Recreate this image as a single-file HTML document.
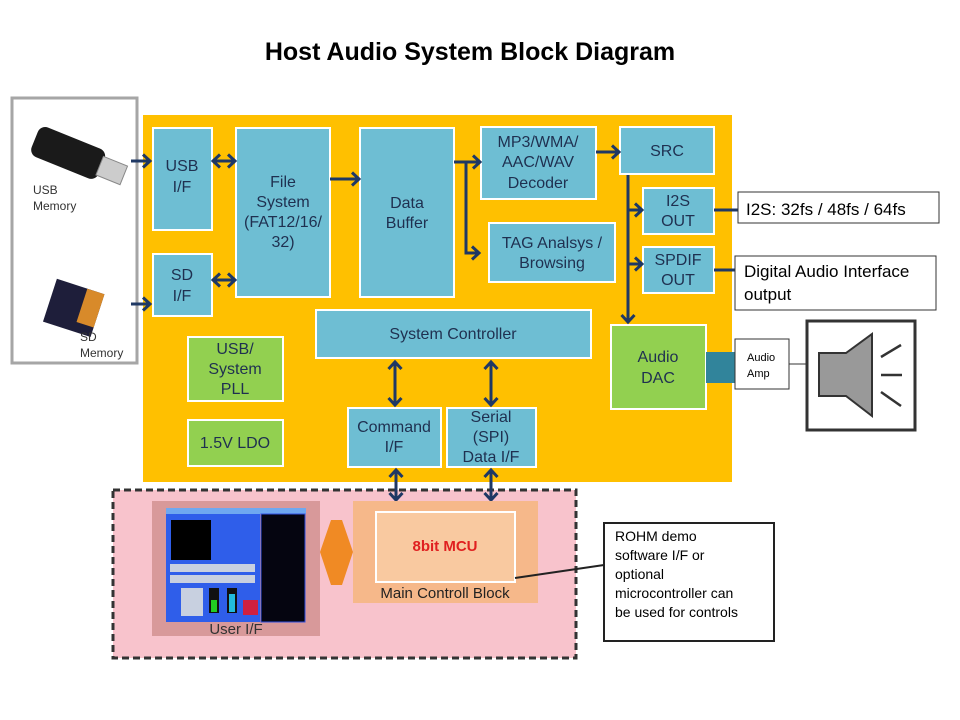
<!DOCTYPE html>
<html><head><meta charset="utf-8"><style>
html,body{margin:0;padding:0;background:#fff;}
svg{display:block;font-family:"Liberation Sans",Arial,sans-serif;}
</style></head><body>
<svg width="960" height="720" viewBox="0 0 960 720" xmlns="http://www.w3.org/2000/svg">
<defs>
<marker id="a" markerWidth="14" markerHeight="16" refX="9" refY="8" orient="auto" markerUnits="userSpaceOnUse"><path d="M2,1.5 L9,8 L2,14.5" fill="none" stroke="#1F3864" stroke-width="3"/></marker>
<marker id="s" markerWidth="14" markerHeight="16" refX="9" refY="8" orient="auto-start-reverse" markerUnits="userSpaceOnUse"><path d="M2,1.5 L9,8 L2,14.5" fill="none" stroke="#1F3864" stroke-width="3"/></marker>
</defs>
<text x="470" y="60" text-anchor="middle" font-size="25" font-weight="bold" fill="#000">Host Audio System Block Diagram</text>

<rect x="12" y="98" width="125" height="265" fill="#fff" stroke="#A6A6A6" stroke-width="3"/>
<g transform="rotate(22 75 160)">
<rect x="30" y="140" width="72" height="32" rx="8" fill="#1a1a1a"/>
<rect x="100" y="146" width="26" height="20" fill="#ccc" stroke="#888"/>
</g>
<text x="33" y="194" font-size="12" fill="#333">USB</text>
<text x="33" y="210" font-size="12" fill="#333">Memory</text>
<g transform="rotate(18 72 310)">
<rect x="48" y="285" width="50" height="45" fill="#1e1e3a"/>
<rect x="80" y="285" width="18" height="35" fill="#d88a2a"/>
</g>
<text x="80" y="341" font-size="12" fill="#333">SD</text>
<text x="80" y="357" font-size="12" fill="#333">Memory</text>

<rect x="143" y="115" width="589" height="367" fill="#FFC000"/>

<g stroke="#fff" stroke-width="2" fill="#6EBED3">
<rect x="153" y="128" width="59" height="102"/>
<rect x="153" y="254" width="59" height="62"/>
<rect x="236" y="128" width="94" height="169"/>
<rect x="360" y="128" width="94" height="169"/>
<rect x="481" y="127" width="115" height="72"/>
<rect x="620" y="127" width="94" height="47"/>
<rect x="489" y="223" width="126" height="59"/>
<rect x="643" y="188" width="71" height="46"/>
<rect x="643" y="247" width="71" height="46"/>
<rect x="316" y="310" width="275" height="48"/>
<rect x="348" y="408" width="93" height="59"/>
<rect x="447" y="408" width="89" height="59"/>
</g>
<g stroke="#fff" stroke-width="2" fill="#92D050">
<rect x="611" y="325" width="95" height="84"/>
<rect x="188" y="337" width="95" height="64"/>
<rect x="188" y="420" width="95" height="46"/>
</g>

<g font-size="16" fill="#1F3050" text-anchor="middle">
<text x="182" y="171">USB</text><text x="182" y="192">I/F</text>
<text x="182" y="280">SD</text><text x="182" y="301">I/F</text>
<text x="283" y="187">File</text><text x="283" y="207">System</text><text x="283" y="227">(FAT12/16/</text><text x="283" y="247">32)</text>
<text x="407" y="208">Data</text><text x="407" y="228">Buffer</text>
<text x="538" y="147">MP3/WMA/</text><text x="538" y="167">AAC/WAV</text><text x="538" y="188">Decoder</text>
<text x="667" y="156">SRC</text>
<text x="552" y="248">TAG Analsys /</text><text x="552" y="268">Browsing</text>
<text x="678" y="206">I2S</text><text x="678" y="226">OUT</text>
<text x="678" y="265">SPDIF</text><text x="678" y="285">OUT</text>
<text x="453" y="339">System Controller</text>
<text x="394" y="432">Command</text><text x="394" y="452">I/F</text>
<text x="491" y="422">Serial</text><text x="491" y="442">(SPI)</text><text x="491" y="462">Data I/F</text>
<text x="658" y="362">Audio</text><text x="658" y="383">DAC</text>
<text x="235" y="354">USB/</text><text x="235" y="374">System</text><text x="235" y="394">PLL</text>
<text x="235" y="448">1.5V LDO</text>
</g>

<g stroke="#1F3864" stroke-width="3" fill="none">
<line x1="131" y1="161" x2="150" y2="161" marker-end="url(#a)"/>
<line x1="131" y1="304" x2="150" y2="304" marker-end="url(#a)"/>
<line x1="213" y1="161" x2="235" y2="161" marker-start="url(#s)" marker-end="url(#a)"/>
<line x1="213" y1="280" x2="235" y2="280" marker-start="url(#s)" marker-end="url(#a)"/>
<line x1="330" y1="179" x2="359" y2="179" marker-end="url(#a)"/>
<polyline points="454,162 480,162" marker-end="url(#a)"/>
<polyline points="466,162 466,253 479,253" marker-end="url(#a)"/>
<line x1="596" y1="152" x2="619" y2="152" marker-end="url(#a)"/>
<line x1="628" y1="175" x2="628" y2="322" marker-end="url(#a)"/>
<line x1="628" y1="210" x2="642" y2="210" marker-end="url(#a)"/>
<line x1="628" y1="264" x2="642" y2="264" marker-end="url(#a)"/>
<line x1="714" y1="210" x2="738" y2="210"/>
<line x1="714" y1="270" x2="735" y2="270"/>
<line x1="395" y1="362" x2="395" y2="405" marker-start="url(#s)" marker-end="url(#a)"/>
<line x1="491" y1="362" x2="491" y2="405" marker-start="url(#s)" marker-end="url(#a)"/>
</g>

<rect x="738" y="192" width="201" height="31" fill="#fff" stroke="#333" stroke-width="1"/>
<text x="746" y="215" font-size="17" fill="#000">I2S: 32fs / 48fs / 64fs</text>
<rect x="735" y="256" width="201" height="54" fill="#fff" stroke="#333" stroke-width="1"/>
<text x="744" y="277" font-size="17" fill="#000">Digital Audio Interface</text>
<text x="744" y="300" font-size="17" fill="#000">output</text>
<rect x="706" y="352" width="29" height="31" fill="#31849B"/>
<rect x="735" y="339" width="54" height="50" fill="#fff" stroke="#333" stroke-width="1"/>
<text x="747" y="361" font-size="11" fill="#000">Audio</text>
<text x="747" y="377" font-size="11" fill="#000">Amp</text>
<line x1="789" y1="364" x2="806" y2="364" stroke="#333" stroke-width="1"/>
<rect x="807" y="321" width="108" height="109" fill="#fff" stroke="#333" stroke-width="3"/>
<path d="M819,353 L846,353 L872,334 L872,416 L846,396 L819,396 Z" fill="#999" stroke="#333" stroke-width="2"/>
<g stroke="#333" stroke-width="2.5"><line x1="881" y1="357" x2="901" y2="345"/><line x1="881" y1="375" x2="902" y2="375"/><line x1="881" y1="392" x2="901" y2="406"/></g>

<rect x="113" y="490" width="463" height="168" fill="#F8C3CC" stroke="#333" stroke-width="3" stroke-dasharray="7,4"/>
<g stroke="#1F3864" stroke-width="3" fill="none">
<line x1="396" y1="470" x2="396" y2="500" marker-start="url(#s)" marker-end="url(#a)"/>
<line x1="491" y1="470" x2="491" y2="500" marker-start="url(#s)" marker-end="url(#a)"/>
</g>
<rect x="152" y="501" width="168" height="135" fill="#D8999A"/>
<rect x="166" y="508" width="94" height="114" fill="#2F5EEA"/>
<rect x="166" y="508" width="140" height="6" fill="#6FA8F0"/>
<rect x="261" y="514" width="44" height="108" fill="#050510" stroke="#3050e0"/>
<rect x="171" y="520" width="40" height="40" fill="#000"/>
<g fill="#c8d0e0">
<rect x="170" y="564" width="85" height="8"/><rect x="170" y="575" width="85" height="8"/>
<rect x="181" y="588" width="22" height="28"/>
</g>
<rect x="209" y="588" width="10" height="25" fill="#111"/><rect x="211" y="600" width="6" height="12" fill="#2c2"/>
<rect x="227" y="588" width="10" height="25" fill="#111"/><rect x="229" y="594" width="6" height="18" fill="#2bd"/>
<rect x="243" y="600" width="15" height="15" fill="#d02040"/>
<text x="236" y="634" text-anchor="middle" font-size="15" fill="#333">User I/F</text>

<polygon points="320,552 331,520 342,520 353,552 342,585 331,585" fill="#F08A24"/>

<rect x="353" y="501" width="185" height="102" fill="#F6B88A"/>
<rect x="376" y="512" width="139" height="70" fill="#F9C9A0" stroke="#fff" stroke-width="2"/>
<text x="445" y="551" text-anchor="middle" font-size="15" font-weight="bold" fill="#E02020">8bit MCU</text>
<text x="445" y="598" text-anchor="middle" font-size="15" fill="#222">Main Controll Block</text>
<line x1="515" y1="578" x2="604" y2="565" stroke="#222" stroke-width="2"/>

<rect x="604" y="523" width="170" height="118" fill="#fff" stroke="#222" stroke-width="2"/>
<g font-size="14" fill="#000">
<text x="615" y="541">ROHM demo</text>
<text x="615" y="560">software I/F or</text>
<text x="615" y="579">optional</text>
<text x="615" y="598">microcontroller can</text>
<text x="615" y="617">be used for controls</text>
</g>
</svg>
</body></html>
